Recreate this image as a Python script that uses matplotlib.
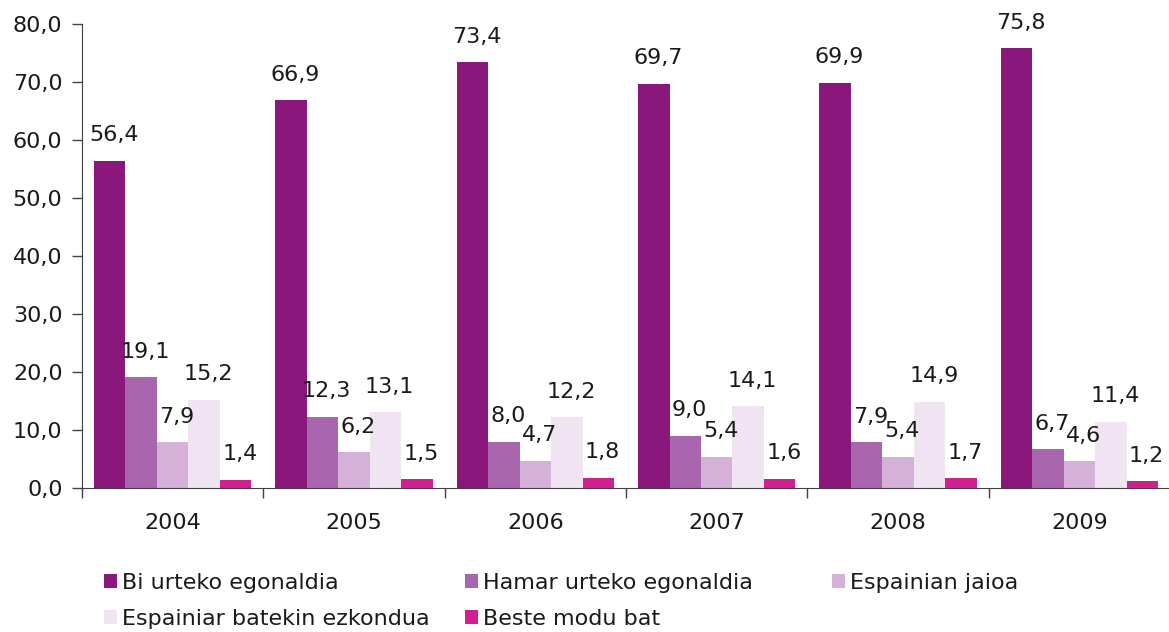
import matplotlib
matplotlib.use("Agg")
import matplotlib.pyplot as plt
import numpy as np
from matplotlib.patches import Patch
from matplotlib.ticker import FixedLocator

years = ["2004", "2005", "2006", "2007", "2008", "2009"]
series_names = ["Bi urteko egonaldia", "Hamar urteko egonaldia", "Espainian jaioa",
                "Espainiar batekin ezkondua", "Beste modu bat"]
bi_urteko = [56.4, 66.9, 73.4, 69.7, 69.9, 75.8]
hamar_urteko = [19.1, 12.3, 8.0, 9.0, 7.9, 6.7]
espainian_jaioa = [7.9, 6.2, 4.7, 5.4, 5.4, 4.6]
ezkondua = [15.2, 13.1, 12.2, 14.1, 14.9, 11.4]
beste_modu = [1.4, 1.5, 1.8, 1.6, 1.7, 1.2]
series = [bi_urteko, hamar_urteko, espainian_jaioa, ezkondua, beste_modu]
colors = ["#8A177C", "#A966AE", "#D5B0D8", "#F1E4F2", "#D11F8E"]

plt.rcParams['font.family'] = ['DejaVu Sans']
fs = 16

fig = plt.figure(figsize=(11.69, 6.32), dpi=100)
ax = fig.add_axes([82/1169, 1-488/632, 1-82/1169+0.001, (488-24)/632])

x = np.arange(len(years))
w = 0.1735
for i, (vals, c) in enumerate(zip(series, colors)):
    pos = x + (i - 2) * w
    ax.bar(pos, vals, width=w, color=c, linewidth=0, zorder=2)
    for px, v in zip(pos, vals):
        ax.annotate(f"{v:.1f}".replace(".", ","), (px, v), xytext=(3, 14),
                    textcoords="offset points", ha="center", va="baseline",
                    fontsize=fs, color="#1a1a1a")

ax.set_xlim(-0.5, 5.5)
ax.set_ylim(0, 80)
ax.set_yticks(np.arange(0, 81, 10))
ax.set_yticklabels([f"{v:.1f}".replace(".", ",") for v in np.arange(0, 81, 10)], fontsize=fs, color="#1a1a1a")
ax.set_xticks(x)
ax.set_xticklabels(years, fontsize=fs, color="#1a1a1a")
ax.xaxis.set_minor_locator(FixedLocator(np.arange(-0.5, 5.0, 1.0)))
ax.tick_params(axis='x', which='major', length=0, pad=18)
ax.tick_params(axis='x', which='minor', length=7, width=1, color="#404040")
ax.tick_params(axis='y', length=7, width=1, color="#404040", pad=7)
for s in ["top", "right"]:
    ax.spines[s].set_visible(False)
ax.spines["left"].set_color("#404040")
ax.spines["bottom"].set_color("#404040")
ax.spines["bottom"].set_zorder(3)

handles = [Patch(facecolor=c, edgecolor='none') for c in colors]
cols = [([0, 3], 104), ([1, 4], 465), ([2], 832)]
for idx, xpix in cols:
    fig.legend([handles[i] for i in idx], [series_names[i] for i in idx],
               loc="upper left", bbox_to_anchor=(xpix/1169, 1-573/632),
               frameon=False, fontsize=fs, handlelength=0.58, handleheight=0.58,
               handletextpad=0.25, labelspacing=0.7, borderpad=0, borderaxespad=0,
               labelcolor="#1a1a1a")

fig.savefig("out.png", dpi=100)
